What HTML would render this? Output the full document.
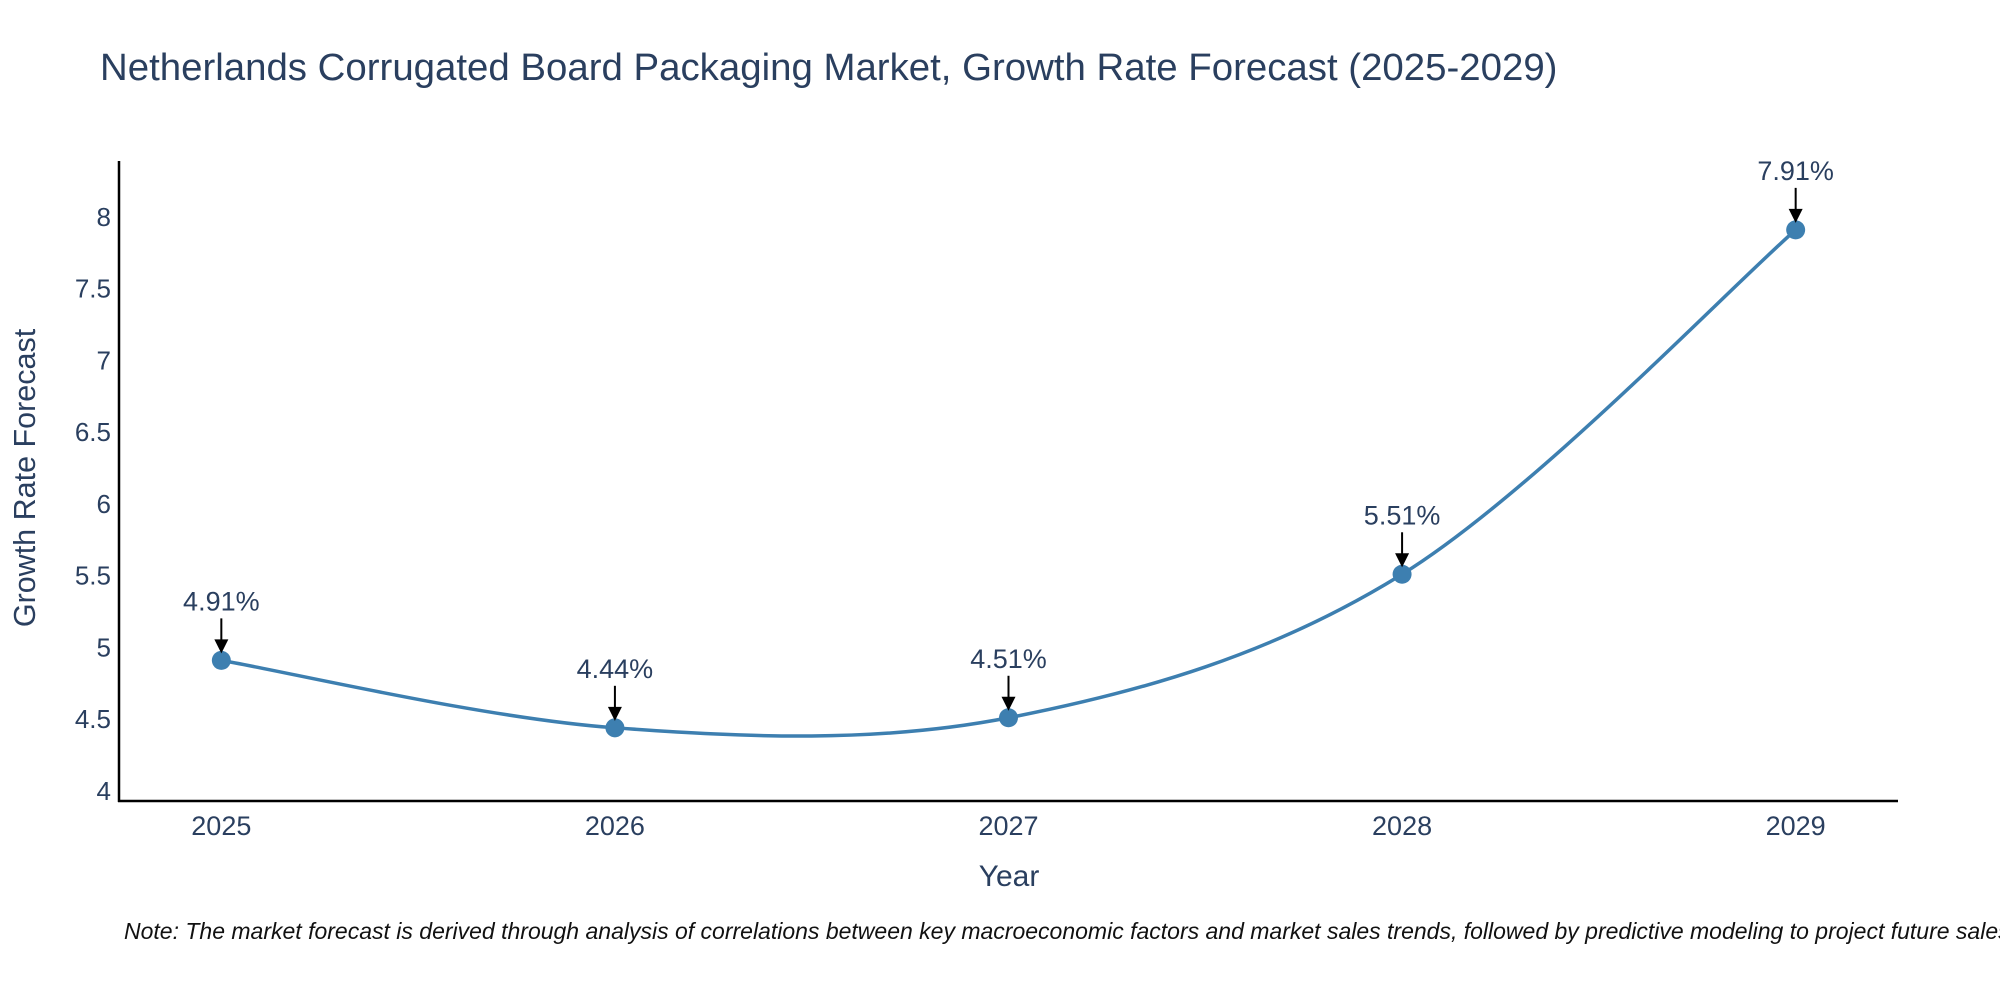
<!DOCTYPE html>
<html><head><meta charset="utf-8"><style>
html,body{margin:0;padding:0;background:#fff;}
svg{display:block;font-family:"Liberation Sans",Arial,sans-serif;}
</style></head><body>
<svg id="chart" width="2000" height="1000" viewBox="0 0 2000 1000" xmlns="http://www.w3.org/2000/svg">
<text x="100" y="80" font-size="38.4" fill="#2a3f5f">Netherlands Corrugated Board Packaging Market, Growth Rate Forecast (2025-2029)</text>
<g id="plot"></g>
<text x="1009" y="886" font-size="30" fill="#2a3f5f" text-anchor="middle">Year</text>
<text transform="translate(35,478) rotate(-90)" font-size="30.5" fill="#2a3f5f" text-anchor="middle">Growth Rate Forecast</text>
<text x="124" y="939" font-size="23" font-style="italic" fill="#111">Note: The market forecast is derived through analysis of correlations between key macroeconomic factors and market sales trends, followed by predictive modeling to project future sales.</text>
</svg>
<script>
const years = [2025, 2026, 2027, 2028, 2029];
const growth = [4.91, 4.44, 4.51, 5.51, 7.91];
const labels = ["4.91%", "4.44%", "4.51%", "5.51%", "7.91%"];
const yTicks = [4, 4.5, 5, 5.5, 6, 6.5, 7, 7.5, 8];
const yTickLabels = ["4", "4.5", "5", "5.5", "6", "6.5", "7", "7.5", "8"];

const NS = "http://www.w3.org/2000/svg";
const g = document.getElementById("plot");
const X0 = 119, X1 = 1898, Y0 = 161, Y1 = 801;
const yMin = 3.93, yMax = 8.39;
const xMin = 2024.74, xMax = 2029.26;
function sx(v){ return X0 + (v - xMin) / (xMax - xMin) * (X1 - X0); }
function sy(v){ return Y1 - (v - yMin) / (yMax - yMin) * (Y1 - Y0); }
function el(tag, attrs){ const e = document.createElementNS(NS, tag); for (const k in attrs) e.setAttribute(k, attrs[k]); g.appendChild(e); return e; }

let a = el("line", {x1: X0, y1: Y0, x2: X0, y2: Y1 + 1, stroke: "#000", "stroke-width": 2.5});


a = el("line", {x1: X0 - 1, y1: Y1, x2: X1, y2: Y1, stroke: "#000", "stroke-width": 2.5});



yTicks.forEach((t, i) => {
  const tx = el("text", {x: X0 - 8, y: sy(t) + 9, "font-size": 26, fill: "#2a3f5f", "text-anchor": "end"});
  tx.textContent = yTickLabels[i];
  
  
});
years.forEach(yr => {
  const tx = el("text", {x: sx(yr), y: Y1 + 34, "font-size": 27, fill: "#2a3f5f", "text-anchor": "middle"});
  tx.textContent = String(yr);
  
  
});

const pts = years.map((yr, i) => [sx(yr), sy(growth[i])]);
let d = "M" + pts[0][0] + "," + pts[0][1];
for (let i = 0; i < pts.length - 1; i++) {
  const p0 = pts[i - 1] || pts[i], p1 = pts[i], p2 = pts[i + 1], p3 = pts[i + 2] || p2;
  const c1 = [p1[0] + (p2[0] - p0[0]) / 6, p1[1] + (p2[1] - p0[1]) / 6];
  const c2 = [p2[0] - (p3[0] - p1[0]) / 6, p2[1] - (p3[1] - p1[1]) / 6];
  d += " C" + c1[0] + "," + c1[1] + " " + c2[0] + "," + c2[1] + " " + p2[0] + "," + p2[1];
}
const line = el("path", {d: d, fill: "none", stroke: "#3d7fb0", "stroke-width": 3.5});



pts.forEach((p, i) => {
  const c = el("circle", {cx: p[0], cy: p[1], r: 9.5, fill: "#3d7fb0"});
  
  
  const ln = el("line", {x1: p[0], y1: p[1] - 42, x2: p[0], y2: p[1] - 20, stroke: "#000", "stroke-width": 2});
  
  
  const hd = el("polygon", {points: (p[0]-7)+","+(p[1]-21)+" "+(p[0]+7)+","+(p[1]-21)+" "+p[0]+","+(p[1]-7), fill: "#000"});
  
  
  const t = el("text", {x: p[0], y: p[1] - 50, "font-size": 27, fill: "#2a3f5f", "text-anchor": "middle"});
  t.textContent = labels[i];
  
  
});
</script>
</body></html>
